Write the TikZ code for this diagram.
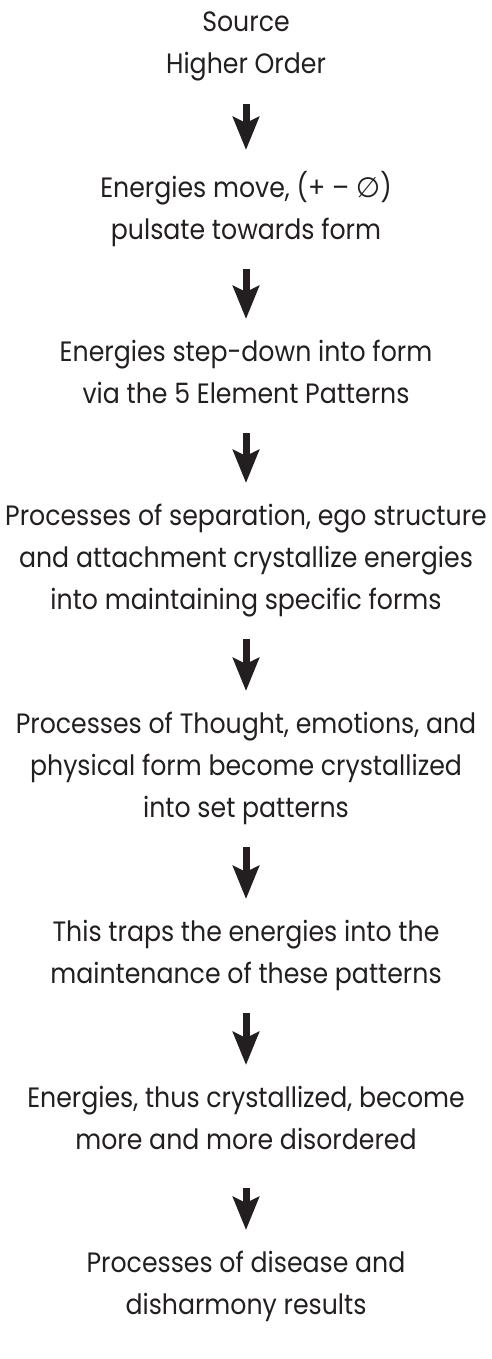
\documentclass[tikz,border=0pt]{standalone}
\usepackage{fontspec}
\setmainfont{Poppins}[FakeStretch=0.9]
\newfontfamily\glyphfont{DejaVu Sans}
\usepackage{xcolor}
\usepackage{tikz}
\usetikzlibrary{arrows.meta,positioning}
\definecolor{ink}{HTML}{231F20}
\tikzstyle{stage} = [align=center, inner sep=0pt, anchor=north, text=ink,
    font=\fontsize{28pt}{42pt}\selectfont,
    execute at begin node=\strut, execute at end node=\strut]

\begin{document}
\begin{tikzpicture}[x=1pt, y=1pt]
    \tikzstyle{flow} = [draw=ink, line width=7pt, shorten <=17pt, shorten >=21pt,
        -{Stealth[length=33pt, width=26pt, inset=6pt]}]
    \useasboundingbox (0,0) rectangle (492,-1359);
    \node[stage] (source) at (246,-12) {Source\\Higher Order};
    \node[stage] (pulse) at (246,-171) {Energies move, (+ -- {\glyphfont ∅})\\pulsate towards form};
    \node[stage] (stepdown) at (246,-340) {Energies step-down into form\\via the 5 Element Patterns};
    \node[stage] (separation) at (246,-504) {Processes of separation, ego structure\\and attachment crystallize energies\\into maintaining specific forms};
    \node[stage] (thought) at (246,-712) {Processes of Thought, emotions, and\\physical form become crystallized\\into set patterns};
    \node[stage] (trap) at (246,-920) {This traps the energies into the\\maintenance of these patterns};
    \node[stage] (disorder) at (246,-1086) {Energies, thus crystallized, become\\more and more disordered};
    \node[stage] (disease) at (246,-1251) {Processes of disease and\\disharmony results};
    \draw[flow] (source.south) -- (pulse.north);
    \draw[flow] (pulse.south) -- (stepdown.north);
    \draw[flow] (stepdown.south) -- (separation.north);
    \draw[flow] (separation.south) -- (thought.north);
    \draw[flow] (thought.south) -- (trap.north);
    \draw[flow] (trap.south) -- (disorder.north);
    \draw[flow, shorten <=26pt] (disorder.south) -- (disease.north);
\end{tikzpicture}
\end{document}
